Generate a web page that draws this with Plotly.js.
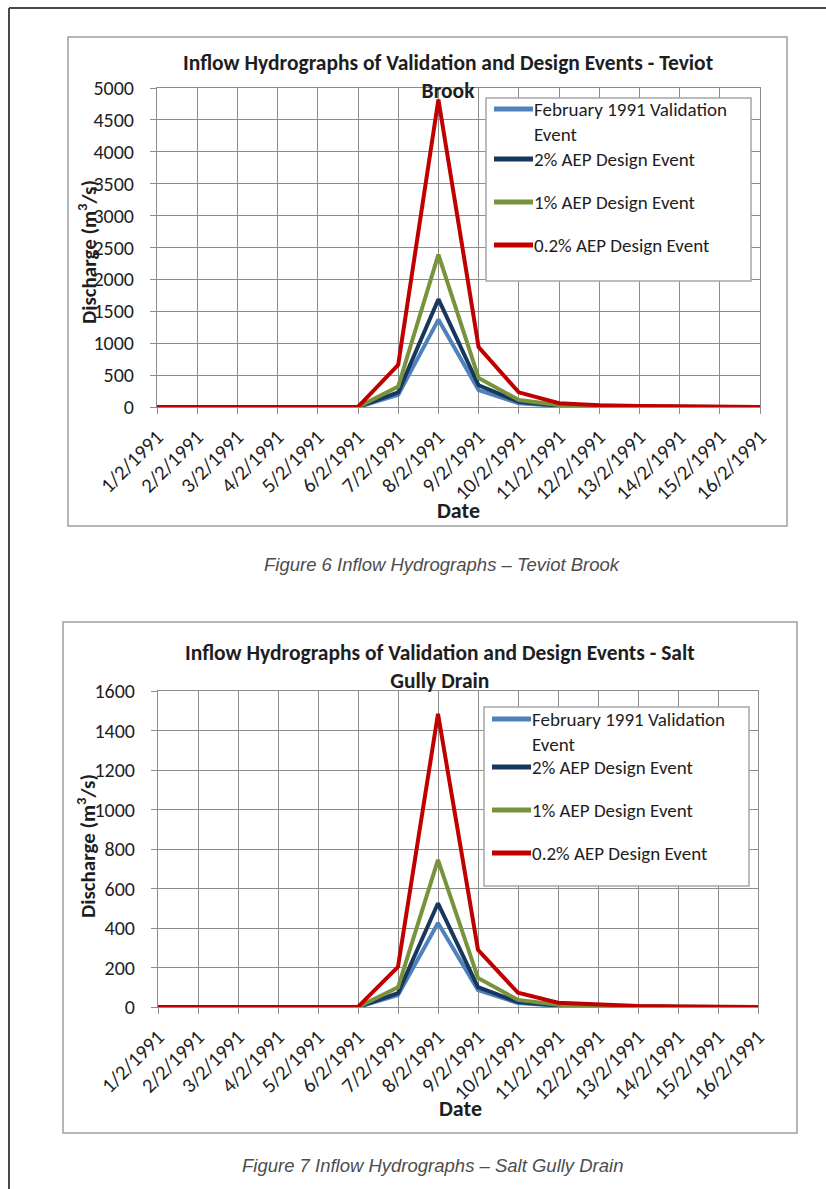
<!DOCTYPE html>
<html>
<head>
<meta charset="utf-8">
<script src="https://cdn.plot.ly/plotly-3.0.1.min.js"></script>
<style>
html,body{margin:0;padding:0;background:#ffffff;}
#chart{width:826px;height:1189px;}
</style>
</head>
<body>
<div id="chart"></div>
<script>
// ---------------- DATA ----------------
const dates = ['1/2/1991','2/2/1991','3/2/1991','4/2/1991','5/2/1991','6/2/1991','7/2/1991','8/2/1991',
               '9/2/1991','10/2/1991','11/2/1991','12/2/1991','13/2/1991','14/2/1991','15/2/1991','16/2/1991'];

const seriesNames = ['February 1991 Validation<br>Event','2% AEP Design Event','1% AEP Design Event','0.2% AEP Design Event'];
const seriesColors = ['#4F81BD','#17375E','#77933C','#C00000'];

// Figure 6 - Teviot Brook (m3/s)
const teviotValidation = [0,0,0,0,0,0,190,1370,265,60,15,6,3,1,0,0];
const teviotAep2       = [0,0,0,0,0,0,230,1690,340,80,20,9,4,2,1,0];
const teviotAep1       = [0,0,0,0,0,0,320,2390,455,110,30,13,6,3,1,0];
const teviotAep02      = [0,0,0,0,0,3,660,4820,940,230,60,28,14,6,3,1];

// Figure 7 - Salt Gully Drain (m3/s)
const saltValidation = [0,0,0,0,0,0,60,425,86,20,6,3,1,0,0,0];
const saltAep2       = [0,0,0,0,0,0,70,525,101,25,8,4,2,1,0,0];
const saltAep1       = [0,0,0,0,0,0,100,745,147,36,11,5,2,1,0,0];
const saltAep02      = [0,0,0,0,0,1,203,1485,289,72,22,11,5,2,1,0];

const chart1Title = 'Inflow Hydrographs of Validation and Design Events - Teviot<br>Brook';
const chart2Title = 'Inflow Hydrographs of Validation and Design Events - Salt<br>Gully Drain';
const caption1 = 'Figure 6 Inflow Hydrographs \u2013 Teviot Brook';
const caption2 = 'Figure 7 Inflow Hydrographs \u2013 Salt Gully Drain';
const xTitle = 'Date';
const yTitle = 'Discharge (m<sup>3</sup>/s)';

// ---------------- LAYOUT HELPERS ----------------
const W = 826, H = 1189;
const X = p => p / W;
const Y = p => 1 - p / H;
const fontFam = 'Carlito, Lato, "Liberation Sans", sans-serif';
const capFam = '"Liberation Sans", Arial, sans-serif';
const gridC = '#8c8c8c';
const txtC = '#1e1e1e';

const sets = [
  {vals:[teviotValidation, teviotAep2, teviotAep1, teviotAep02], xa:'x', ya:'y'},
  {vals:[saltValidation, saltAep2, saltAep1, saltAep02], xa:'x2', ya:'y2'}
];

const traces = [];
sets.forEach(s => {
  s.vals.forEach((v, i) => {
    traces.push({
      type:'scatter', mode:'lines', x:dates, y:v,
      name: seriesNames[i].replace('<br>',' '),
      xaxis:s.xa, yaxis:s.ya, showlegend:false,
      line:{color:seriesColors[i], width:4},
      hoverinfo:'x+y+name'
    });
  });
});

function xAxis(l, r, anchor){
  return {type:'category', domain:[X(l), X(r)], anchor:anchor, range:[0, dates.length-1],
    showgrid:true, gridcolor:gridC, gridwidth:1, zeroline:false,
    ticks:'outside', ticklen:6, tickcolor:gridC, ticklabelstandoff:3,
    showline:true, linecolor:gridC, linewidth:1, mirror:true,
    tickangle:-45, tickfont:{family:fontFam, size:20.5, color:txtC},
    automargin:false,
    fixedrange:true};
}
function yAxis(top, bottom, anchor, maxV, step){
  return {domain:[Y(bottom), Y(top)], anchor:anchor, range:[0, maxV], dtick:step, tick0:0,
    showgrid:true, gridcolor:gridC, gridwidth:1, zeroline:false,
    ticks:'outside', ticklen:6, tickcolor:gridC, ticklabelstandoff:12,
    showline:true, linecolor:gridC, linewidth:1, mirror:true,
    tickfont:{family:fontFam, size:20, color:txtC},
    automargin:false,
    fixedrange:true};
}

const shapes = [];
const annotations = [];

// page frame
shapes.push({type:'line', xref:'paper', yref:'paper', x0:X(9), x1:X(826), y0:Y(8), y1:Y(8), line:{color:'#4a4a4a', width:2}});
shapes.push({type:'line', xref:'paper', yref:'paper', x0:X(9), x1:X(9), y0:Y(8), y1:Y(1189), line:{color:'#4a4a4a', width:2}});
// chart boxes
shapes.push({type:'rect', xref:'paper', yref:'paper', x0:X(68), x1:X(787), y0:Y(526), y1:Y(37), line:{color:'#a0a0a0', width:1.5}});
shapes.push({type:'rect', xref:'paper', yref:'paper', x0:X(63), x1:X(797), y0:Y(1133), y1:Y(622), line:{color:'#a0a0a0', width:1.5}});

function addLegend(l, t, r, b, rows){
  shapes.push({type:'rect', xref:'paper', yref:'paper', x0:X(l), x1:X(r), y0:Y(b), y1:Y(t),
    line:{color:'#a6a6a6', width:1.5}, fillcolor:'#ffffff', layer:'above'});
  rows.forEach((ry, i) => {
    shapes.push({type:'line', xref:'paper', yref:'paper', x0:X(l+8), x1:X(l+47), y0:Y(ry), y1:Y(ry),
      line:{color:seriesColors[i], width:5}, layer:'above'});
    annotations.push({xref:'paper', yref:'paper', x:X(l+47), y:Y(ry-12), xanchor:'left', yanchor:'top',
      align:'left', showarrow:false, borderpad:0, text:seriesNames[i],
      font:{family:fontFam, size:19, color:txtC}});
  });
}
addLegend(486, 98, 751, 281, [109, 159, 202, 245]);
addLegend(484, 707, 749, 886, [719, 767, 810, 853]);

// chart titles
annotations.push({xref:'paper', yref:'paper', x:X(448), y:Y(48), xanchor:'center', yanchor:'top', showarrow:false,
  text:'<b>'+chart1Title+'</b>', font:{family:fontFam, size:21.5, color:txtC}});
annotations.push({xref:'paper', yref:'paper', x:X(440), y:Y(638), xanchor:'center', yanchor:'top', showarrow:false,
  text:'<b>'+chart2Title+'</b>', font:{family:fontFam, size:21.5, color:txtC}});

// axis titles
[[458, 510, 87, 252], [460, 1108, 86, 846]].forEach(p => {
  annotations.push({xref:'paper', yref:'paper', x:X(p[0]), y:Y(p[1]), xanchor:'center', yanchor:'middle', showarrow:false,
    text:'<b>'+xTitle+'</b>', font:{family:fontFam, size:22, color:txtC}});
  annotations.push({xref:'paper', yref:'paper', x:X(p[2]), y:Y(p[3]), xanchor:'center', yanchor:'middle', showarrow:false,
    textangle:-90, text:'<b>'+yTitle+'</b>', font:{family:fontFam, size:21, color:txtC}});
});

// captions
annotations.push({xref:'paper', yref:'paper', x:X(442), y:Y(564), xanchor:'center', yanchor:'middle', showarrow:false,
  text:'<i>'+caption1+'</i>', font:{family:capFam, size:18.5, color:'#4d4d4d'}});
annotations.push({xref:'paper', yref:'paper', x:X(432), y:Y(1165), xanchor:'center', yanchor:'middle', showarrow:false,
  text:'<i>'+caption2+'</i>', font:{family:capFam, size:18.5, color:'#4d4d4d'}});

const layout = {
  width:W, height:H,
  margin:{l:0, r:0, t:0, b:0},
  paper_bgcolor:'#ffffff', plot_bgcolor:'#ffffff',
  showlegend:false,
  xaxis: xAxis(157, 760, 'y'),
  yaxis: yAxis(88, 407, 'x', 5000, 500),
  xaxis2: xAxis(158, 758, 'y2'),
  yaxis2: yAxis(691, 1007, 'x2', 1600, 200),
  shapes: shapes,
  annotations: annotations
};

Plotly.newPlot('chart', traces, layout, {displayModeBar:false, staticPlot:true});
</script>
</body>
</html>
